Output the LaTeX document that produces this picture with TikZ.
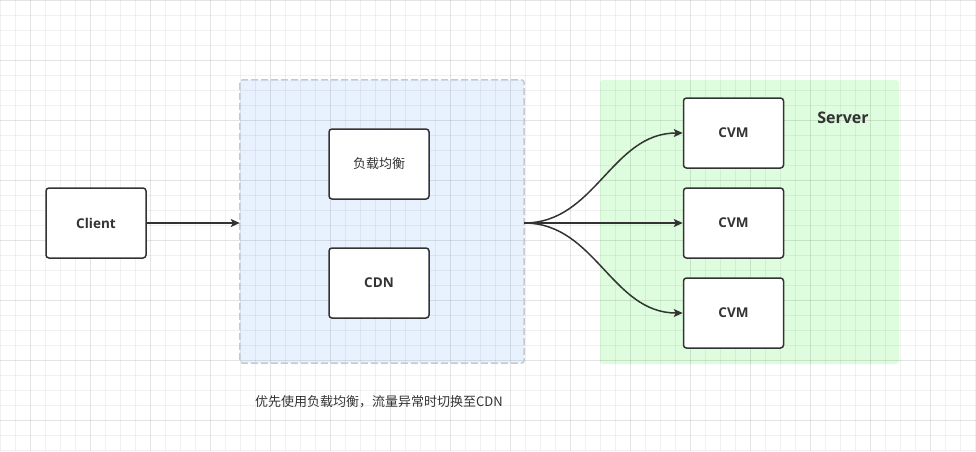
\documentclass[tikz,border=0pt]{standalone}
\usepackage{fontspec}
\setmainfont{Open Sans}
\newfontfamily\cjk{Noto Sans CJK SC}
\usetikzlibrary{positioning, arrows.meta}
\definecolor{ink}{HTML}{333333}
\definecolor{lbfill}{HTML}{E8F2FE}
\definecolor{srvfill}{HTML}{DEFDDE}
\definecolor{dashgray}{HTML}{C6CAD0}

\begin{document}
\begin{tikzpicture}[x=1pt,y=-1pt,
  box/.style={draw=ink,fill=white,line width=1.5pt,rounded corners=3pt,minimum width=100pt,minimum height=70pt,inner sep=0pt,text=ink,font=\fontsize{13.5}{16}\selectfont\bfseries},
  zone/.style={inner sep=0pt,rounded corners=3pt},
  link/.style={draw=ink,line width=1.5pt,-{Stealth[length=9pt,width=8pt,inset=2pt]}},
  minorgrid/.style={black,line width=1pt,draw opacity=0.055},
  majorgrid/.style={black,line width=1pt,draw opacity=0.05}]
  \useasboundingbox[fill=white] (0,0) rectangle (976,451);
  % zones
  \node[zone,fill=lbfill,minimum width=284pt,minimum height=283pt] (lb) at (382,221.5) {};
  \node[zone,fill=srvfill,minimum width=299pt,minimum height=284pt] (srv) at (749.5,222) {};
  % grid
  \foreach \gx in {0,15,...,975} \draw[minorgrid] (\gx,0) -- (\gx,451);
  \foreach \gy in {0,15,...,450} \draw[minorgrid] (0,\gy) -- (976,\gy);
  \foreach \gx in {30,90,...,930} \draw[majorgrid] (\gx,0) -- (\gx,451);
  \foreach \gy in {0,60,...,420} \draw[majorgrid] (0,\gy) -- (976,\gy);
  \draw[dashgray,line width=1.5pt,dash pattern=on 7pt off 3pt,rounded corners=3pt] (lb.north west) rectangle (lb.south east);
  % boxes
  \node[box] (client) at (96,223) {Client};
  \node[box,font=\fontsize{13}{16}\selectfont\cjk] (balance) at (379,164) {负载均衡};
  \node[box] (cdn) at (379,283) {CDN};
  \node[box] (cvm1) at (733.5,133) {CVM};
  \node[box,below=18.5pt of cvm1] (cvm2) {CVM};
  \node[box,below=18.5pt of cvm2] (cvm3) {CVM};
  \node[text=ink,font=\fontsize{16}{18}\selectfont\bfseries] (srvlabel) at (843,118) {Server};
  \node[text=ink,font=\fontsize{13}{16}\selectfont\cjk] (note) at (379,402) {优先使用负载均衡，流量异常时切换至CDN};
  % connectors
  \draw[link] (client) -- (client -| lb.west);
  \draw[link] (lb.east |- cvm2) to[out=0,in=180] (cvm1.west);
  \draw[link] (lb.east |- cvm2) -- (cvm2.west);
  \draw[link] (lb.east |- cvm2) to[out=0,in=180] (cvm3.west);
\end{tikzpicture}
\end{document}
